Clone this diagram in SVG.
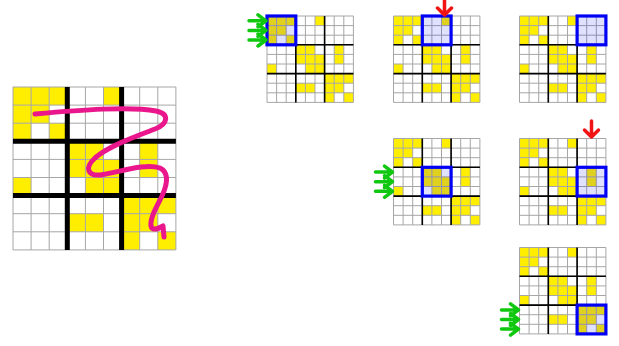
<svg xmlns="http://www.w3.org/2000/svg" width="619" height="346" viewBox="0 0 619 346">
<style>
.bg{fill:#ffffff}
.y{fill:#ffee00}
.thin{stroke:#a6a6a6;stroke-width:1;fill:none}
.thickS{stroke:#000;stroke-width:1.6;fill:none}
.thickB{stroke:#000;stroke-width:5;fill:none}
.hl{fill:#0000ff;fill-opacity:0.12;stroke:#0000f5;stroke-width:3.2}
.ga{stroke:#10c810;stroke-width:3.5;fill:none;stroke-linecap:round;stroke-linejoin:round}
.ra{stroke:#f01414;stroke-width:3.5;fill:none;stroke-linecap:round;stroke-linejoin:round}
.snake{stroke:#e9168c;stroke-width:5;fill:none;stroke-linecap:round;stroke-linejoin:round}
</style>
<defs>
<g id="sg">
<rect class="bg" x="0" y="0" width="86.4" height="86.4"/>
<g class="y">
<rect x="0" y="0" width="9.6" height="9.6"/><rect x="9.6" y="0" width="9.6" height="9.6"/><rect x="19.2" y="0" width="9.6" height="9.6"/><rect x="48" y="0" width="9.6" height="9.6"/>
<rect x="0" y="9.6" width="9.6" height="9.6"/><rect x="9.6" y="9.6" width="9.6" height="9.6"/>
<rect x="0" y="19.2" width="9.6" height="9.6"/><rect x="19.2" y="19.2" width="9.6" height="9.6"/>
<rect x="28.8" y="28.8" width="9.6" height="9.6"/><rect x="38.4" y="28.8" width="9.6" height="9.6"/><rect x="67.2" y="28.8" width="9.6" height="9.6"/>
<rect x="28.8" y="38.4" width="9.6" height="9.6"/><rect x="38.4" y="38.4" width="9.6" height="9.6"/><rect x="48" y="38.4" width="9.6" height="9.6"/><rect x="67.2" y="38.4" width="9.6" height="9.6"/>
<rect x="0" y="48" width="9.6" height="9.6"/><rect x="38.4" y="48" width="9.6" height="9.6"/><rect x="48" y="48" width="9.6" height="9.6"/>
<rect x="57.6" y="57.6" width="9.6" height="9.6"/><rect x="67.2" y="57.6" width="9.6" height="9.6"/><rect x="76.8" y="57.6" width="9.6" height="9.6"/>
<rect x="28.8" y="67.2" width="9.6" height="9.6"/><rect x="38.4" y="67.2" width="9.6" height="9.6"/><rect x="57.6" y="67.2" width="9.6" height="9.6"/><rect x="67.2" y="67.2" width="9.6" height="9.6"/>
<rect x="57.6" y="76.8" width="9.6" height="9.6"/><rect x="76.8" y="76.8" width="9.6" height="9.6"/>
</g>
<path class="thin" d="M0,0V86.4M9.6,0V86.4M19.2,0V86.4M28.8,0V86.4M38.4,0V86.4M48,0V86.4M57.6,0V86.4M67.2,0V86.4M76.8,0V86.4M86.4,0V86.4M0,0H86.4M0,9.6H86.4M0,19.2H86.4M0,28.8H86.4M0,38.4H86.4M0,48H86.4M0,57.6H86.4M0,67.2H86.4M0,76.8H86.4M0,86.4H86.4"/>
<path class="thickS" d="M28.8,0V86.4M57.6,0V86.4M0,28.8H86.4M0,57.6H86.4"/>
</g>
<path id="garr" d="M-17,0H0M-8,-6L0,0L-8,6"/>
<path id="rarr" d="M0,-16V0M-7,-7L0,0L7,-7"/>
</defs>

<g id="big-grid">
<rect class="bg" x="13" y="87" width="162.9" height="162.9"/>
<g class="y" transform="translate(13,87)">
<rect x="0" y="0" width="18.1" height="18.1"/><rect x="18.1" y="0" width="18.1" height="18.1"/><rect x="36.2" y="0" width="18.1" height="18.1"/><rect x="90.5" y="0" width="18.1" height="18.1"/>
<rect x="0" y="18.1" width="18.1" height="18.1"/><rect x="18.1" y="18.1" width="18.1" height="18.1"/>
<rect x="0" y="36.2" width="18.1" height="18.1"/><rect x="36.2" y="36.2" width="18.1" height="18.1"/>
<rect x="54.3" y="54.3" width="18.1" height="18.1"/><rect x="72.4" y="54.3" width="18.1" height="18.1"/><rect x="126.7" y="54.3" width="18.1" height="18.1"/>
<rect x="54.3" y="72.4" width="18.1" height="18.1"/><rect x="72.4" y="72.4" width="18.1" height="18.1"/><rect x="90.5" y="72.4" width="18.1" height="18.1"/><rect x="126.7" y="72.4" width="18.1" height="18.1"/>
<rect x="0" y="90.5" width="18.1" height="18.1"/><rect x="72.4" y="90.5" width="18.1" height="18.1"/><rect x="90.5" y="90.5" width="18.1" height="18.1"/>
<rect x="108.6" y="108.6" width="18.1" height="18.1"/><rect x="126.7" y="108.6" width="18.1" height="18.1"/><rect x="144.8" y="108.6" width="18.1" height="18.1"/>
<rect x="54.3" y="126.7" width="18.1" height="18.1"/><rect x="72.4" y="126.7" width="18.1" height="18.1"/><rect x="108.6" y="126.7" width="18.1" height="18.1"/><rect x="126.7" y="126.7" width="18.1" height="18.1"/>
<rect x="108.6" y="144.8" width="18.1" height="18.1"/><rect x="144.8" y="144.8" width="18.1" height="18.1"/>
</g>
<path class="thin" transform="translate(13,87)" d="M0,0V162.9M18.1,0V162.9M36.2,0V162.9M54.3,0V162.9M72.4,0V162.9M90.5,0V162.9M108.6,0V162.9M126.7,0V162.9M144.8,0V162.9M162.9,0V162.9M0,0H162.9M0,18.1H162.9M0,36.2H162.9M0,54.3H162.9M0,72.4H162.9M0,90.5H162.9M0,108.6H162.9M0,126.7H162.9M0,144.8H162.9M0,162.9H162.9"/>
<path class="thickB" transform="translate(13,87)" d="M54.3,0V162.9M108.6,0V162.9M0,54.3H162.9M0,108.6H162.9"/>
</g>

<g id="grid1"><use href="#sg" x="267" y="16"/><rect class="hl" x="267" y="16" width="28.8" height="28.8"/></g>
<g id="grid2"><use href="#sg" x="393.5" y="16"/><rect class="hl" x="422.3" y="16" width="28.8" height="28.8"/></g>
<g id="grid3"><use href="#sg" x="519.5" y="16"/><rect class="hl" x="577.1" y="16" width="28.8" height="28.8"/></g>
<g id="grid4"><use href="#sg" x="393.5" y="138.5"/><rect class="hl" x="422.3" y="167.3" width="28.8" height="28.8"/></g>
<g id="grid5"><use href="#sg" x="519.5" y="138.5"/><rect class="hl" x="577.1" y="167.3" width="28.8" height="28.8"/></g>
<g id="grid6"><use href="#sg" x="519.5" y="247.5"/><rect class="hl" x="577.1" y="305.1" width="28.8" height="28.8"/></g>

<g id="connectors">
<path class="snake" d="M35,114 C80,110 130,106 156,111 C170,114 168,124 155,129 C140,135 110,145 95,158 C84,168 88,176 100,175 C120,172 145,163 160,168 C170,173 167,185 162,196 C156,208 150,218 151,226 C152,231 158,229 163,226 L164,237"/>
<g class="ga">
<use href="#garr" x="266" y="20.8"/><use href="#garr" x="266" y="30.4"/><use href="#garr" x="266" y="40"/>
<use href="#garr" x="392.5" y="172.1"/><use href="#garr" x="392.5" y="181.7"/><use href="#garr" x="392.5" y="191.3"/>
<use href="#garr" x="518.5" y="309.9"/><use href="#garr" x="518.5" y="319.5"/><use href="#garr" x="518.5" y="329.1"/>
</g>
<g class="ra">
<use href="#rarr" x="444.5" y="15"/>
<use href="#rarr" x="591.5" y="137"/>
</g>
</g>
</svg>
